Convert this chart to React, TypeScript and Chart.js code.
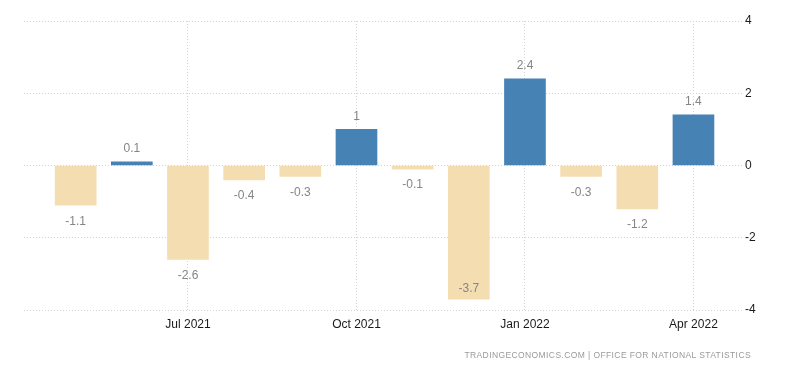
import React, { useEffect, useRef } from "react";
import { Chart, registerables } from "chart.js";

Chart.register(...registerables);

const months = [
  "May 2021", "Jun 2021", "Jul 2021", "Aug 2021", "Sep 2021", "Oct 2021",
  "Nov 2021", "Dec 2021", "Jan 2022", "Feb 2022", "Mar 2022", "Apr 2022",
];
const values = [-1.1, 0.1, -2.6, -0.4, -0.3, 1, -0.1, -3.7, 2.4, -0.3, -1.2, 1.4];
const xTickIndices = [2, 5, 8, 11];
const yTicks = [-4, -2, 0, 2, 4];

const BLUE = "#4682B4";
const TAN = "#F4DDB1";
const FONT = "'Liberation Sans', Arial, sans-serif";

const labelPlugin = {
  id: "valueLabels",
  afterDatasetsDraw(chart: any) {
    const ctx = chart.ctx;
    const meta = chart.getDatasetMeta(0);
    const area = chart.chartArea;
    ctx.save();
    ctx.font = `12px ${FONT}`;
    ctx.fillStyle = "#858585";
    ctx.textAlign = "center";
    ctx.textBaseline = "middle";
    meta.data.forEach((bar: any, i: number) => {
      const v = values[i];
      let y: number;
      if (v >= 0) {
        y = bar.y - 13;
      } else {
        y = bar.y + 16;
        if (y > area.bottom - 8) y = bar.y - 10;
      }
      ctx.fillText(String(v), bar.x, y);
    });
    ctx.restore();
  },
};

export default function App() {
  const ref = useRef<HTMLCanvasElement>(null);
  useEffect(() => {
    document.body.style.margin = "0";
    const chart = new Chart(ref.current!, {
      type: "bar",
      data: {
        datasets: [
          {
            data: values.map((v, i) => ({ x: i, y: v })),
            backgroundColor: values.map((v) => (v >= 0 ? BLUE : TAN)),
            barThickness: 41,
            borderWidth: 0,
          },
        ],
      },
      options: {
        animation: false,
        responsive: false,
        maintainAspectRatio: false,
        layout: { padding: { top: 21, left: 24, right: 0, bottom: 0 } },
        plugins: { legend: { display: false }, tooltip: { enabled: false } },
        scales: {
          x: {
            type: "linear",
            offset: false,
            min: -0.92,
            max: 11.9,
            afterBuildTicks: (scale: any) => {
              scale.ticks = xTickIndices.map((v) => ({ value: v }));
            },
            afterFit: (scale: any) => {
              scale.height = 63;
            },
            ticks: {
              autoSkip: false,
              maxRotation: 0,
              padding: 7,
              color: "#1a1a1a",
              font: { family: FONT, size: 12 },
              callback: (v: any) => months[Math.round(Number(v))] ?? "",
            },
            grid: { offset: false, color: "#d3d3d3", drawTicks: false, lineWidth: 1 },
            border: { display: false, dash: [1, 2] },
          },
          y: {
            position: "right",
            min: -4,
            max: 4,
            afterBuildTicks: (scale: any) => {
              scale.ticks = yTicks.map((v) => ({ value: v }));
            },
            afterFit: (scale: any) => {
              scale.width = 56;
            },
            ticks: {
              padding: 1,
              color: "#1a1a1a",
              font: { family: FONT, size: 12 },
            },
            grid: { color: "#d3d3d3", drawTicks: false, lineWidth: 1 },
            border: { display: false, dash: [1, 2] },
          },
        },
      },
      plugins: [labelPlugin],
    } as any);
    return () => chart.destroy();
  }, []);
  return (
    <div style={{ position: "relative", width: 800, height: 373, background: "#fff" }}>
      <canvas ref={ref} width={800} height={373} style={{ display: "block" }} />
      <div
        style={{
          position: "absolute",
          right: 49,
          top: 350,
          fontFamily: FONT,
          fontSize: 8.5,
          letterSpacing: "0.4px",
          color: "#9a9a9a",
          whiteSpace: "nowrap",
        }}
      >
        TRADINGECONOMICS.COM | OFFICE FOR NATIONAL STATISTICS
      </div>
    </div>
  );
}
